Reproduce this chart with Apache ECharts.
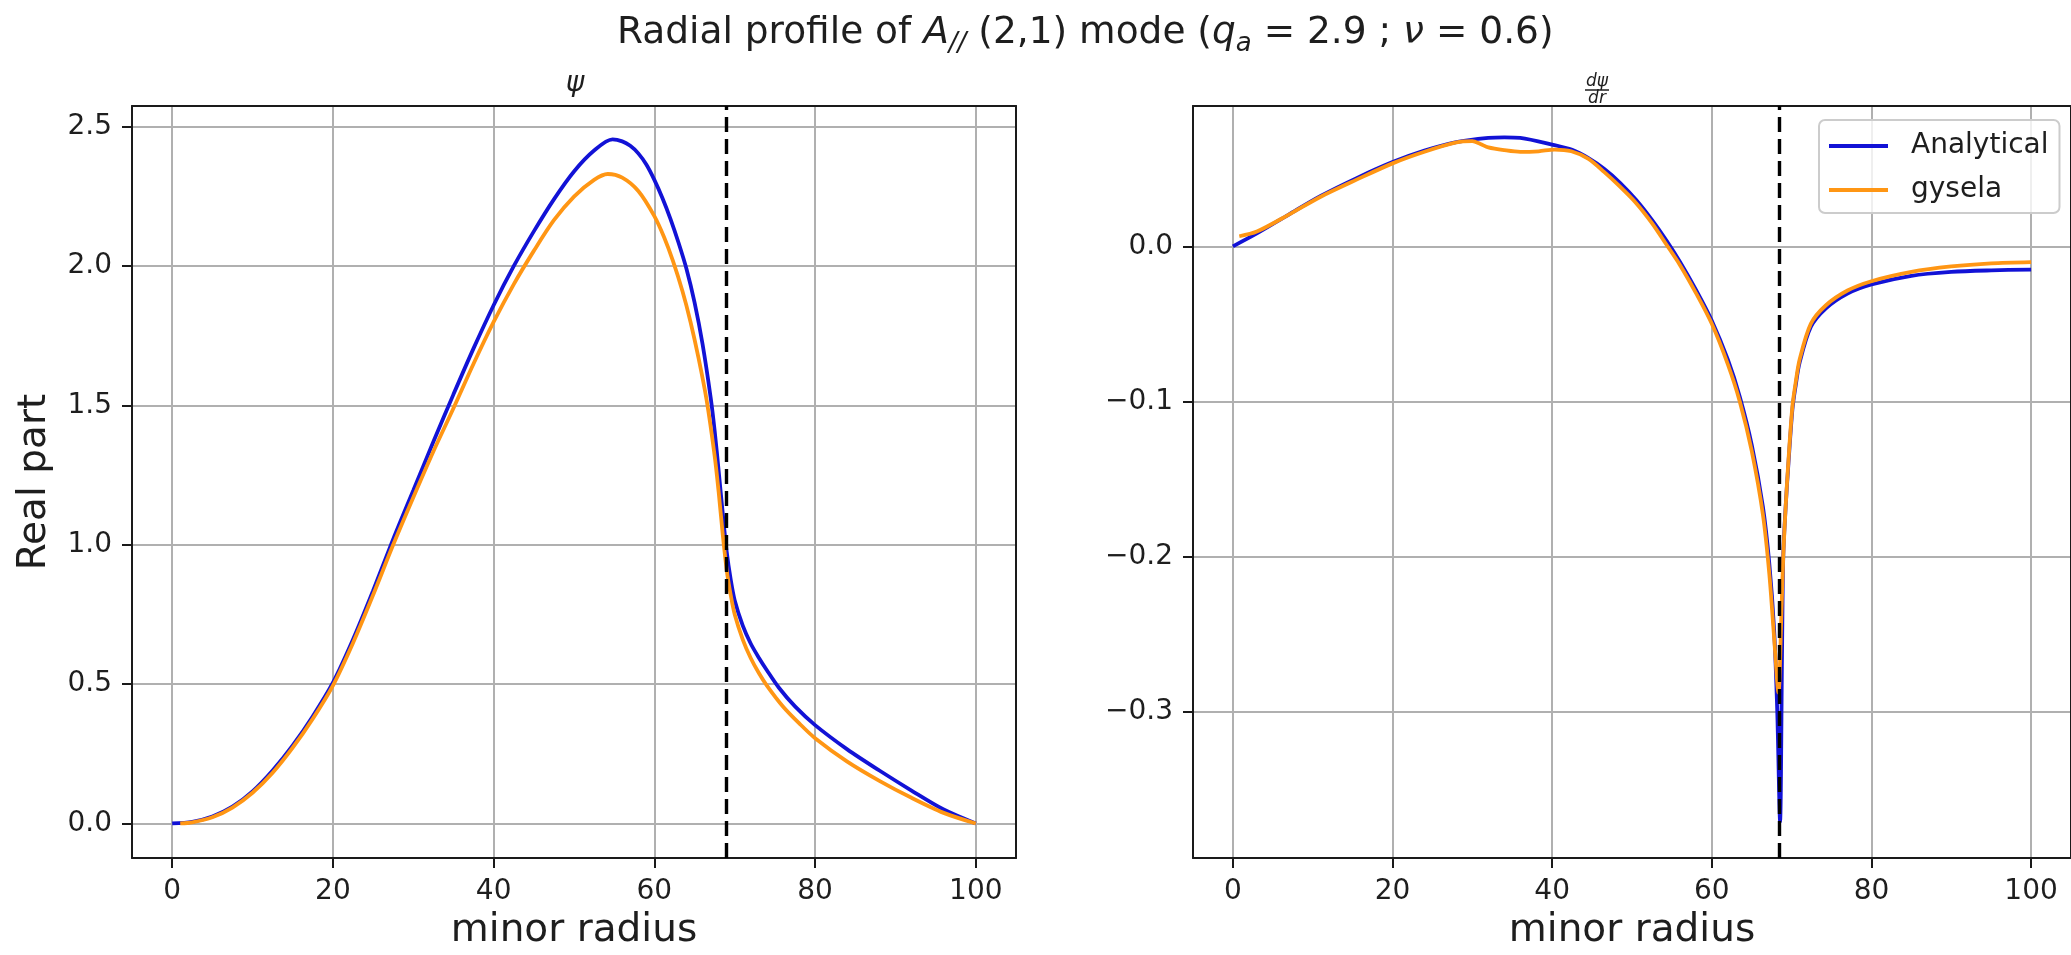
<!DOCTYPE html>
<html>
<head>
<meta charset="utf-8">
<script src="https://cdn.jsdelivr.net/npm/echarts@6/dist/echarts.min.js"></script>
<style>
html, body { margin: 0; padding: 0; background: #fff; }
#chart { width: 2071px; height: 955px; }
</style>
</head>
<body>
<div id="chart"></div>
<script>
// ---- data ----
const legendNames = ['Analytical', 'gysela'];
const xTicks = [0, 20, 40, 60, 80, 100];
const psiTicks = [0, 0.5, 1, 1.5, 2, 2.5];
const dpsiTicks = [-0.3, -0.2, -0.1, 0];
const resonance = [69, 68.5];

const psiAnalyticalR = [0, 2.5, 5, 7.5, 10, 12.5, 15, 17.5, 20, 22.5, 25, 27.5, 30, 32.5, 35, 37.5, 40, 42.5, 45, 47.5, 50, 52.5, 54.8, 56, 57, 58, 59, 60, 61, 62, 63, 64, 65, 66, 67, 67.5, 68, 68.5, 69, 69.5, 70, 71, 72, 73, 74, 75.5, 77.5, 80, 84, 88, 92, 96, 100];
const psiAnalyticalV = [0, 0.006, 0.025, 0.06, 0.115, 0.19, 0.28, 0.385, 0.505, 0.66, 0.835, 1.02, 1.195, 1.37, 1.54, 1.705, 1.86, 2.0, 2.125, 2.24, 2.34, 2.415, 2.455, 2.448, 2.432, 2.405, 2.365, 2.31, 2.245, 2.17, 2.085, 1.99, 1.87, 1.72, 1.53, 1.41, 1.265, 1.115, 0.975, 0.875, 0.80, 0.71, 0.645, 0.595, 0.55, 0.487, 0.42, 0.353, 0.266, 0.19, 0.118, 0.05, 0];

const psiGyselaR = [1, 2.5, 5, 7.5, 10, 12.5, 15, 17.5, 20, 22.5, 25, 27.5, 30, 32.5, 35, 37.5, 40, 42.5, 45, 47.5, 50, 52.5, 54.2, 56, 58, 60, 61.2, 62.3, 63.5, 64.5, 65.5, 66.5, 67.5, 68, 68.5, 69, 69.5, 70, 71, 72, 73, 74, 76, 78, 80, 84, 88, 92, 96, 100];
const psiGyselaV = [0, 0.004, 0.022, 0.057, 0.11, 0.182, 0.272, 0.376, 0.495, 0.648, 0.82, 1.0, 1.17, 1.335, 1.49, 1.65, 1.80, 1.935, 2.055, 2.165, 2.25, 2.31, 2.331, 2.318, 2.27, 2.18, 2.105, 2.02, 1.91, 1.80, 1.67, 1.52, 1.32, 1.19, 1.04, 0.91, 0.82, 0.75, 0.66, 0.593, 0.54, 0.495, 0.42, 0.36, 0.306, 0.222, 0.153, 0.092, 0.038, 0];

const dpsiAnalyticalR = [0, 3, 7, 11, 15.5, 20, 24, 28, 32, 34, 36, 40, 42.5, 44.5, 46.5, 48.5, 50.5, 52.5, 54.4, 56, 58, 60, 62, 63.5, 65, 66.4, 67.2, 67.8, 68.2, 68.55, 68.8, 68.95, 69.25, 69.6, 70.1, 70.5, 71, 72.4, 74.3, 77, 80, 85, 90, 95, 100];
const dpsiAnalyticalV = [0, 0.0083, 0.0205, 0.0325, 0.044, 0.0543, 0.0617, 0.0672, 0.0699, 0.0703, 0.0699, 0.0656, 0.0622, 0.057, 0.050, 0.041, 0.030, 0.017, 0.003, -0.010, -0.028, -0.048, -0.073, -0.097, -0.128, -0.168, -0.2045, -0.247, -0.30, -0.371, -0.26, -0.2, -0.168, -0.14, -0.105, -0.09, -0.075, -0.052, -0.04, -0.0305, -0.0246, -0.019, -0.0165, -0.0155, -0.015];

const dpsiGyselaR = [0.8, 3, 7, 11, 15.5, 20, 24, 28, 30, 31, 32, 34, 36, 38.3, 40.3, 42.4, 44.5, 46.5, 48.5, 50.5, 52.5, 54.2, 56, 58, 60, 62, 63.5, 65, 66.4, 67.2, 67.8, 68.35, 68.7, 68.95, 69.25, 69.6, 70.1, 70.5, 71, 72.4, 74.3, 77, 80, 85, 90, 95, 100];
const dpsiGyselaV = [0.0065, 0.0095, 0.0204, 0.032, 0.043, 0.0535, 0.061, 0.067, 0.0678, 0.066, 0.0638, 0.062, 0.0609, 0.0613, 0.0624, 0.0613, 0.0565, 0.048, 0.0385, 0.028, 0.015, 0.002, -0.012, -0.030, -0.050, -0.076, -0.100, -0.132, -0.173, -0.211, -0.252, -0.288, -0.24, -0.2, -0.168, -0.138, -0.103, -0.088, -0.073, -0.05, -0.038, -0.0285, -0.0225, -0.0165, -0.013, -0.011, -0.0102];

// ---- styling ----
const FONT = 'DejaVu Sans';
const TXT = '#1e1e1e';
const FRAME = '#1a1a1a';
const BLUE = '#1212d6';
const ORANGE = '#ff9614';
const GRIDC = '#b0b0b0';

const pairs = (r, v) => r.map((x, i) => [x, v[i]]);
const fmt1 = v => (v < 0 ? '\u2212' : '') + Math.abs(v).toFixed(1);

function mainX(gi, name) {
  return {
    type: 'value', gridIndex: gi, position: 'bottom', min: -5, max: 105,
    minInterval: 20, maxInterval: 20,
    name: name, nameLocation: 'middle', nameGap: 53,
    nameTextStyle: { fontFamily: FONT, fontSize: 39, color: TXT },
    axisLine: { show: true, onZero: false, lineStyle: { color: FRAME, width: 2 } },
    axisTick: { show: true, inside: false, length: 10, customValues: xTicks, lineStyle: { color: FRAME, width: 2 } },
    axisLabel: { show: true, customValues: xTicks, margin: 20, fontFamily: FONT, fontSize: 28, color: TXT,
      formatter: v => String(v) },
    splitLine: { show: true, lineStyle: { color: GRIDC, width: 2 } }
  };
}
function frameX(gi) {
  return {
    type: 'value', gridIndex: gi, position: 'top', min: -5, max: 105,
    axisLine: { show: true, onZero: false, lineStyle: { color: FRAME, width: 2 } },
    axisTick: { show: false }, axisLabel: { show: false }, splitLine: { show: false }
  };
}
function mainY(gi, min, max, step, ticks, name) {
  return {
    type: 'value', gridIndex: gi, position: 'left', min: min, max: max,
    minInterval: step, maxInterval: step,
    name: name, nameLocation: 'middle', nameGap: 78, nameRotate: 90,
    nameTextStyle: { fontFamily: FONT, fontSize: 39, color: TXT },
    axisLine: { show: true, onZero: false, lineStyle: { color: FRAME, width: 2 } },
    axisTick: { show: true, inside: false, length: 10, customValues: ticks, lineStyle: { color: FRAME, width: 2 } },
    axisLabel: { show: true, customValues: ticks, margin: 20, fontFamily: FONT, fontSize: 28, color: TXT,
      formatter: fmt1 },
    splitLine: { show: true, lineStyle: { color: GRIDC, width: 2 } }
  };
}
function frameY(gi, min, max) {
  return {
    type: 'value', gridIndex: gi, position: 'right', min: min, max: max,
    axisLine: { show: true, onZero: false, lineStyle: { color: FRAME, width: 2 } },
    axisTick: { show: false }, axisLabel: { show: false }, splitLine: { show: false }
  };
}
function curve(name, color, xi, yi, data, z, mark) {
  const s = {
    type: 'line', name: name, xAxisIndex: xi, yAxisIndex: yi, data: data,
    showSymbol: false, symbol: 'none', smooth: 0.3, z: z, silent: true,
    lineStyle: { color: color, width: 3.8 }, itemStyle: { color: color },
    emphasis: { disabled: true }, animation: false
  };
  if (mark != null) {
    s.markLine = {
      silent: true, symbol: ['none', 'none'], animation: false,
      label: { show: false },
      lineStyle: { color: '#000', width: 3.4, type: [15, 7] },
      data: [{ xAxis: mark }]
    };
  }
  return s;
}

const chart = echarts.init(document.getElementById('chart'), null, { renderer: 'canvas' });
chart.setOption({
  backgroundColor: '#ffffff',
  animation: false,
  title: {
    left: 617, top: 9, padding: 0,
    text: 'Radial profile of {i|A}{s|//} (2,1) mode ({i|q}{s|a} = 2.9 ; {i|\u03bd} = 0.6)',
    textStyle: {
      fontFamily: FONT, fontSize: 37.5, fontWeight: 'normal', color: TXT, lineHeight: 48,
      rich: {
        i: { fontFamily: FONT, fontSize: 37.5, fontStyle: 'italic', color: TXT, lineHeight: 48 },
        s: { fontFamily: FONT, fontSize: 26, fontStyle: 'italic', color: TXT, verticalAlign: 'bottom', lineHeight: 48 }
      }
    }
  },
  legend: {
    data: legendNames.map(n => ({ name: n, icon: 'rect' })),
    orient: 'vertical', left: 1819, top: 120,
    itemWidth: 59, itemHeight: 4, itemGap: 10,
    padding: [9, 11, 6, 10],
    backgroundColor: 'rgba(255,255,255,0.8)', borderColor: '#cccccc', borderWidth: 2, borderRadius: 6,
    textStyle: { fontFamily: FONT, fontSize: 28, color: TXT, lineHeight: 34, padding: [0, 0, 0, 18] },
    selectedMode: false
  },
  grid: [
    { left: 132, top: 106, width: 884, height: 755, containLabel: false },
    { left: 1193, top: 106, width: 883, height: 755, containLabel: false }
  ],
  xAxis: [mainX(0, 'minor radius'), frameX(0), mainX(1, 'minor radius'), frameX(1)],
  yAxis: [
    mainY(0, -0.124, 2.575, 0.5, psiTicks, 'Real part'), frameY(0, -0.124, 2.575),
    mainY(1, -0.3945, 0.0905, 0.1, dpsiTicks, ''), frameY(1, -0.3945, 0.0905)
  ],
  graphic: [
    { type: 'text', x: 575, y: 84, silent: true,
      style: { text: '\u03c8', fontFamily: FONT, fontSize: 28, fontStyle: 'italic', fill: TXT, align: 'center', verticalAlign: 'middle' } },
    { type: 'text', x: 1597, y: 82, silent: true,
      style: { text: 'd\u03c8', fontFamily: FONT, fontSize: 17, fontStyle: 'italic', fill: TXT, align: 'center', verticalAlign: 'middle' } },
    { type: 'line', silent: true, shape: { x1: 1585, y1: 90, x2: 1609, y2: 90 }, style: { stroke: TXT, lineWidth: 1.5 } },
    { type: 'text', x: 1597, y: 99, silent: true,
      style: { text: 'dr', fontFamily: FONT, fontSize: 17, fontStyle: 'italic', fill: TXT, align: 'center', verticalAlign: 'middle' } }
  ],
  series: [
    curve(legendNames[0], BLUE, 0, 0, pairs(psiAnalyticalR, psiAnalyticalV), 3, null),
    curve(legendNames[1], ORANGE, 0, 0, pairs(psiGyselaR, psiGyselaV), 4, resonance[0]),
    curve(legendNames[0], BLUE, 2, 2, pairs(dpsiAnalyticalR, dpsiAnalyticalV), 3, null),
    curve(legendNames[1], ORANGE, 2, 2, pairs(dpsiGyselaR, dpsiGyselaV), 4, resonance[1])
  ]
});
</script>
</body>
</html>
